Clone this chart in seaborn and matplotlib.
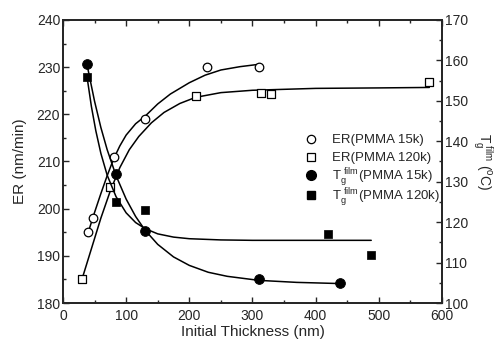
"""
plot.py
-------
Etch rate and film Tg versus initial PMMA film thickness.
"""

import matplotlib
matplotlib.use("Agg")
import matplotlib.pyplot as plt
from matplotlib.ticker import MultipleLocator
import seaborn as sns

# ─── data ────────────────────────────────────────────────────────────────────

er15_x = [40, 48, 80, 130, 228, 310]
er15_y = [195.0, 198.0, 211.0, 219.0, 230.0, 230.0]

er120_x = [30, 75, 210, 314, 329, 579]
er120_y = [185.0, 204.5, 223.8, 224.6, 224.3, 226.8]

tg15_x = [38, 84, 130, 310, 439]
tg15_y = [159.0, 132.0, 117.8, 105.9, 104.9]

tg120_x = [38, 84, 130, 419, 487]
tg120_y = [156.0, 124.9, 123.0, 117.0, 111.9]

# fitted curves
er15_fit_x = [40, 50, 60, 70, 80, 90, 100, 115, 130, 150, 170, 200, 225, 250, 280, 310]
er15_fit_y = [195.0, 199.2, 203.2, 207.0, 210.5, 213.3, 215.6, 218.0, 219.6,
              222.2, 224.3, 226.7, 228.3, 229.4, 230.1, 230.6]

er120_fit_x = [30, 45, 60, 75, 90, 105, 120, 140, 160, 185, 210, 250, 300, 400, 500, 580]
er120_fit_y = [185.0, 191.5, 198.0, 203.8, 208.7, 212.5, 215.3, 218.2, 220.4,
               222.3, 223.6, 224.6, 225.1, 225.5, 225.6, 225.7]

tg15_fit_x = [38, 50, 60, 70, 84, 100, 115, 130, 150, 175, 200, 230, 260, 310, 370, 440]
tg15_fit_y = [159.0, 149.9, 143.4, 137.9, 131.5, 125.7, 121.4, 118.0, 114.5,
              111.4, 109.3, 107.6, 106.6, 105.6, 105.1, 104.8]

tg120_fit_x = [38, 45, 52, 60, 70, 84, 100, 115, 130, 150, 175, 200, 250, 300, 400, 488]
tg120_fit_y = [156.0, 148.6, 142.6, 137.0, 131.6, 126.3, 122.3, 119.9, 118.4,
               117.1, 116.3, 115.9, 115.6, 115.5, 115.5, 115.5]

er_labels = ["ER(PMMA 15k)", "ER(PMMA 120k)"]
tg_labels = [r"$\mathregular{T_g^{\ film}}$(PMMA 15k)",
             r"$\mathregular{T_g^{\ film}}$(PMMA 120k)"]

# ─── style ───────────────────────────────────────────────────────────────────

sns.set_theme(style="ticks")
plt.rcParams["font.family"] = ["Liberation Sans", "DejaVu Sans"]
plt.rcParams["mathtext.fontset"] = "custom"
plt.rcParams["mathtext.rm"] = "Liberation Sans"
plt.rcParams["xtick.direction"] = "in"
plt.rcParams["ytick.direction"] = "in"

fig = plt.figure(figsize=(5.01, 3.47), dpi=100)
ax = fig.add_axes([0.1257, 0.1268, 0.7565, 0.8156])
ax2 = ax.twinx()

line_kw = dict(color="black", lw=1.1, sort=False, estimator=None, legend=False)

# left axis: etch rate
sns.lineplot(x=er15_fit_x, y=er15_fit_y, ax=ax, **line_kw)
sns.lineplot(x=er120_fit_x, y=er120_fit_y, ax=ax, **line_kw)
sns.scatterplot(x=er15_x, y=er15_y, ax=ax, marker="o", s=38,
                facecolor="white", edgecolor="black", linewidth=0.9, zorder=5)
sns.scatterplot(x=er120_x, y=er120_y, ax=ax, marker="s", s=30,
                facecolor="white", edgecolor="black", linewidth=0.9, zorder=5)

# right axis: film Tg
sns.lineplot(x=tg15_fit_x, y=tg15_fit_y, ax=ax2, **line_kw)
sns.lineplot(x=tg120_fit_x, y=tg120_fit_y, ax=ax2, **line_kw)
sns.scatterplot(x=tg15_x, y=tg15_y, ax=ax2, marker="o", s=50,
                color="black", edgecolor="black", zorder=5)
sns.scatterplot(x=tg120_x, y=tg120_y, ax=ax2, marker="s", s=40,
                color="black", edgecolor="black", zorder=5)

# ─── axes ────────────────────────────────────────────────────────────────────

ax.set_xlim(0, 600)
ax.set_ylim(180, 240)
ax2.set_ylim(100, 170)

ax.xaxis.set_major_locator(MultipleLocator(100))
ax.xaxis.set_minor_locator(MultipleLocator(50))
ax.yaxis.set_major_locator(MultipleLocator(10))
ax.yaxis.set_minor_locator(MultipleLocator(5))
ax2.yaxis.set_major_locator(MultipleLocator(10))
ax2.yaxis.set_minor_locator(MultipleLocator(5))

ax.tick_params(axis="x", which="both", top=True, labelsize=10, width=1, pad=4.5)
ax.tick_params(axis="y", which="both", right=False, labelsize=10, width=1, pad=2)
ax2.tick_params(axis="y", which="both", labelsize=10, width=1, pad=2)
for a in (ax, ax2):
    a.tick_params(which="major", length=4)
    a.tick_params(which="minor", length=2)
    for sp in a.spines.values():
        sp.set_linewidth(1.3)
        sp.set_visible(True)

ax.set_xlabel("Initial Thickness (nm)", fontsize=11, labelpad=1)
ax.set_ylabel("ER (nm/min)", fontsize=11, labelpad=7)
ax2.set_ylabel(r"$\mathregular{T_g^{\ film}}$ ($\mathregular{^oC}$)", fontsize=10,
               rotation=270, labelpad=19)

# ─── legend (two blocks, so the Tg rows can sit tighter) ─────────────────────

er_handles = [
    plt.Line2D([], [], ls="none", marker="o", ms=6, mfc="white", mec="black", mew=0.9),
    plt.Line2D([], [], ls="none", marker="s", ms=5.5, mfc="white", mec="black", mew=0.9),
]
tg_handles = [
    plt.Line2D([], [], ls="none", marker="o", ms=7, mfc="black", mec="black"),
    plt.Line2D([], [], ls="none", marker="s", ms=6, mfc="black", mec="black"),
]
leg_kw = dict(loc="upper left", frameon=False, fontsize=9.5, handletextpad=1.0,
              handlelength=1.2, borderaxespad=0)
leg1 = ax2.legend(er_handles, er_labels, bbox_to_anchor=(0.62, 0.616),
                  labelspacing=0.45, **leg_kw)
ax2.add_artist(leg1)
ax2.legend(tg_handles, tg_labels, bbox_to_anchor=(0.62, 0.503),
           labelspacing=-0.15, **leg_kw)

fig.savefig("out.png", dpi=100)
